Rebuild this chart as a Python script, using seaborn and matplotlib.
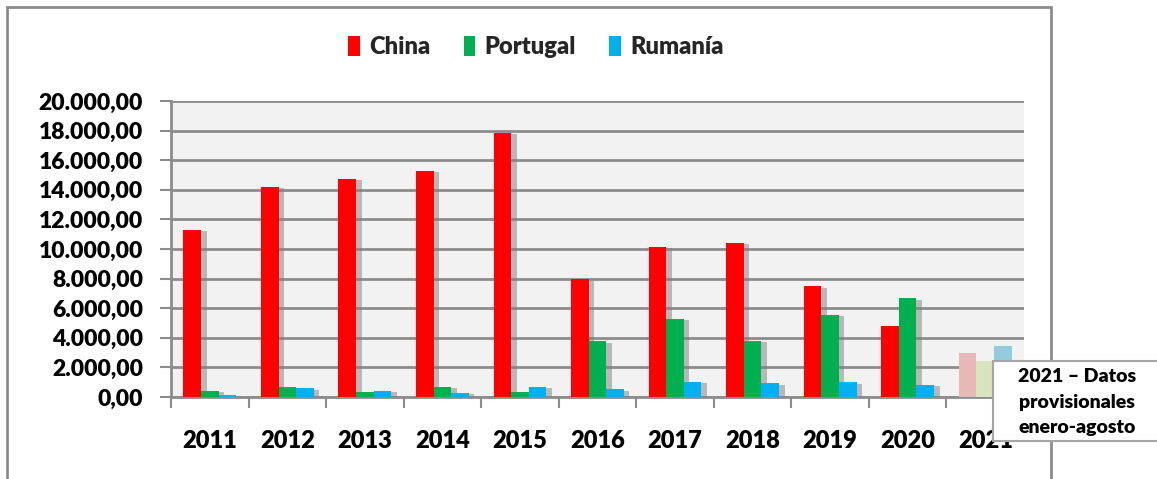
import matplotlib
matplotlib.use("Agg")
import matplotlib.pyplot as plt
import matplotlib.patheffects as pe
from matplotlib.patches import Rectangle
from matplotlib.ticker import FuncFormatter, FixedLocator
import seaborn as sns
import pandas as pd

years = ["2011", "2012", "2013", "2014", "2015", "2016", "2017", "2018", "2019", "2020", "2021"]
china = [11300, 14200, 14750, 15300, 17850, 7950, 10150, 10400, 7480, 4800, 2950]
portugal = [400, 700, 360, 700, 360, 3760, 5270, 3780, 5540, 6670, 2450]
rumania = [150, 600, 400, 300, 700, 520, 1030, 925, 1000, 810, 3450]
series = ["China", "Portugal", "Rumanía"]
colors = ["#FF0000", "#00B050", "#00B0F0"]
colors_2021 = ["#E6B9B8", "#D7E4BD", "#93CDDD"]
note_lines = ["2021 – Datos", "provisionales", "enero-agosto"]

df = pd.DataFrame({
    "year": years * 3,
    "value": china + portugal + rumania,
    "country": [series[0]] * len(years) + [series[1]] * len(years) + [series[2]] * len(years),
})

sns.set_theme(style="white")
plt.rcParams["font.family"] = ["Lato", "DejaVu Sans"]
W = "heavy"
plt.rcParams["font.weight"] = W

fig = plt.figure(figsize=(11.57, 4.79), dpi=100)
ax = fig.add_axes([171 / 1157, 1 - 397 / 479, (1024 - 171) / 1157, (397 - 101) / 479])
ax.set_facecolor("#F2F2F2")

sns.barplot(data=df, x="year", y="value", hue="country", hue_order=series,
            palette=colors, width=0.68, ax=ax, saturation=1, legend=False,
            linewidth=0, zorder=3)

shadow = [pe.SimplePatchShadow(offset=(4, -1), shadow_rgbFace="#808080", alpha=0.5), pe.Normal()]
for ci, cont in enumerate(ax.containers):
    for bi, bar in enumerate(cont):
        bar.set_path_effects(shadow)
        if bi == len(years) - 1:
            bar.set_facecolor(colors_2021[ci])
            bar.set_path_effects([])

ax.set_ylim(0, 20000)
ax.set_xlim(-0.5, len(years) - 0.5)
ax.set_yticks(range(0, 20001, 2000))
ax.yaxis.set_major_formatter(FuncFormatter(lambda v, p: f"{v:,.2f}".replace(",", "X").replace(".", ",").replace("X", ".")))
ax.grid(axis="y", color="#8C8C8C", linewidth=2, zorder=0)
ax.set_axisbelow(True)
ax.set_xlabel("")
ax.set_ylabel("")

for s in ["top", "right"]:
    ax.spines[s].set_visible(False)
for s in ["left", "bottom"]:
    ax.spines[s].set_color("#8C8C8C")
    ax.spines[s].set_linewidth(2)

ax.tick_params(axis="y", which="both", direction="out", length=8, width=1.5, color="#8C8C8C",
               labelsize=16.5, pad=12, left=True)
ax.tick_params(axis="x", which="major", length=0, labelsize=17, pad=24)
ax.xaxis.set_minor_locator(FixedLocator([i - 0.5 for i in range(len(years) + 1)]))
ax.tick_params(axis="x", which="minor", direction="out", length=8, width=1.5, color="#8C8C8C", bottom=True)
for lab in ax.get_xticklabels() + ax.get_yticklabels():
    lab.set_fontweight(W)
    lab.set_color("black")

# legend
handles = [Rectangle((0, 0), 1, 1, facecolor=c, edgecolor="none") for c in colors]
fig.legend(handles, series, loc="center", bbox_to_anchor=(536 / 1157, 1 - 47 / 479), ncol=3,
           frameon=False, handlelength=0.5, handleheight=0.9, handletextpad=0.4,
           columnspacing=1.4, prop={"size": 17, "weight": W})

# outer frame
fig.add_artist(Rectangle((7 / 1157, -0.1), (1051 - 7) / 1157, 1.1 - 7 / 479, transform=fig.transFigure,
                         fill=False, edgecolor="#8C8C8C", linewidth=2))

# note box
fig.add_artist(Rectangle((993 / 1157, 1 - 441 / 479), 0.2, 80 / 479, transform=fig.transFigure,
                         facecolor="white", edgecolor="#A6A6A6", linewidth=1.5, zorder=10))
for i, line in enumerate(note_lines):
    fig.text(1077 / 1157, 1 - (377 + 25.5 * i) / 479, line, ha="center", va="center",
             fontsize=14, fontweight=W, color="black", zorder=11)

fig.savefig("out.png", dpi=100)
